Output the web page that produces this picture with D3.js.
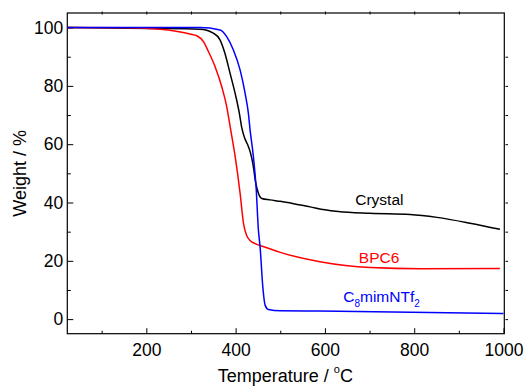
<!DOCTYPE html>
<html>
<head>
<meta charset="utf-8">
<script src="https://cdn.jsdelivr.net/npm/d3@7"></script>
<style>
  body { margin: 0; background: #fff; }
  text { font-family: "Liberation Sans", Arial, sans-serif; }
  .axis path { display: none; }
  .axis line { stroke: #000; stroke-width: 1; }
  .axis text { font-size: 17.5px; fill: #000; }
</style>
</head>
<body>
<div id="container"></div>
<script>
// ---- data ----
const crystalT = [23, 208, 320, 350, 365, 376, 387.6, 398.8, 408.4, 414, 420, 427, 433, 439, 445.2, 451, 458.6, 477, 500, 530, 567, 600, 630, 701, 791, 851, 925, 992];
const crystalW = [100, 99.7, 99.45, 98.1, 95.8, 91.2, 84.3, 77.5, 70.6, 65.5, 62.2, 59.8, 57.2, 53, 46.6, 43.2, 41.4, 40.9, 40.4, 39.6, 38.5, 37.5, 36.9, 36.3, 35.9, 34.9, 32.9, 30.8];

const bpcT = [23, 157, 231, 298, 313, 328, 339, 354, 369, 380, 389, 399, 410, 418, 425, 433, 445, 470, 500, 589, 701, 813, 992];
const bpcW = [100, 99.9, 99.4, 97.8, 97.2, 95.2, 91.8, 86.6, 79.7, 72.9, 64.9, 55.7, 43.2, 32.5, 28.6, 26.9, 25.8, 24.5, 22.9, 19.7, 17.7, 17.3, 17.4];

const ionicT = [23, 320, 365, 380, 395, 410, 421.2, 428.6, 432.4, 439.8, 445.8, 451, 454.8, 460.9, 466, 473.5, 500, 589, 1000];
const ionicW = [100, 100, 99.2, 96.9, 92.3, 85.5, 77.5, 70.6, 64.9, 55.7, 45.4, 30.6, 24.8, 11.1, 4.8, 3.3, 2.85, 2.75, 1.96];

const xMajor = [200, 400, 600, 800, 1000];
const xMinor = [100, 300, 500, 700, 900];
const yMajor = [0, 20, 40, 60, 80, 100];
const yMinor = [10, 30, 50, 70, 90];

const width = 528;
const height = 388;
const pLeft = 67.3, pRight = 503.5, pTop = 13, pBottom = 333.7;

const svg = d3.select("div#container").append("svg")
    .attr("width", width)
    .attr("height", height);

//----------------------------SCALES----------------------------//
const x = d3.scaleLinear().domain([23, 1000]).range([pLeft, pRight]);
const y = d3.scaleLinear().domain([-5, 105]).range([pBottom, pTop]);

//-----------------------------AXES-----------------------------//
svg.append("g").attr("class", "axis")
    .attr("transform", "translate(0," + pBottom + ")")
    .call(d3.axisBottom(x).tickValues(xMajor).tickSize(-5.5).tickPadding(10).tickFormat(d3.format("d")));
svg.append("g").attr("class", "axis")
    .attr("transform", "translate(0," + pBottom + ")")
    .call(d3.axisBottom(x).tickValues(xMinor).tickSize(-3).tickFormat(""));

svg.append("g").attr("class", "axis")
    .attr("transform", "translate(" + pLeft + ",0)")
    .call(d3.axisLeft(y).tickValues(yMajor).tickSize(-6).tickPadding(4));
svg.append("g").attr("class", "axis")
    .attr("transform", "translate(" + pLeft + ",0)")
    .call(d3.axisLeft(y).tickValues(yMinor).tickSize(-3.5).tickFormat(""));

// small ticks on top and right
svg.append("g").attr("class", "axis")
    .attr("transform", "translate(0," + (pTop + 1.5) + ")")
    .call(d3.axisTop(x).tickValues(xMajor.concat(xMinor).filter(d => d < 1000)).tickSize(3).tickFormat(""));
svg.append("g").attr("class", "axis")
    .attr("transform", "translate(" + (pRight + 2) + ",0)")
    .call(d3.axisLeft(y).tickValues(yMajor.concat(yMinor).filter(d => d < 100)).tickSize(-2.5).tickFormat(""));

// frame
svg.append("rect")
    .attr("x", pLeft).attr("y", pTop)
    .attr("width", pRight - pLeft + 0.8).attr("height", pBottom - pTop)
    .attr("fill", "none").attr("stroke", "#000").attr("stroke-width", 1.2);

//----------------------------LINES-----------------------------//
const line = d3.line()
    .x(d => x(d[0]))
    .y(d => y(d[1]))
    .curve(d3.curveMonotoneX);

const series = [
  { t: crystalT, w: crystalW, color: "#000000" },
  { t: bpcT, w: bpcW, color: "#ff0000" },
  { t: ionicT, w: ionicW, color: "#0000ff" }
];

series.forEach(function(s) {
  svg.append("path")
      .datum(s.t.map((t, i) => [t, s.w[i]]))
      .attr("fill", "none")
      .attr("stroke", s.color)
      .attr("stroke-width", 1.5)
      .attr("d", line);
});

//----------------------------LABELS----------------------------//
svg.append("text")
    .attr("x", x(668)).attr("y", y(39.1))
    .style("font-size", "15.5px").attr("fill", "#000")
    .text("Crystal");

svg.append("text")
    .attr("x", x(676)).attr("y", y(19.3))
    .style("font-size", "15.5px").attr("fill", "#ff0000")
    .text("BPC6");

const il = svg.append("text")
    .attr("x", x(641)).attr("y", y(5.9))
    .style("font-size", "15.5px").attr("fill", "#0000ff");
il.append("tspan").text("C");
il.append("tspan").attr("dy", 5).style("font-size", "10px").text("8");
il.append("tspan").attr("dy", -5).text("mimNTf");
il.append("tspan").attr("dy", 5).style("font-size", "10px").text("2");

// axis titles
const xt = svg.append("text")
    .attr("x", (pLeft + pRight) / 2).attr("y", 382)
    .attr("text-anchor", "middle")
    .style("font-size", "18px");
xt.append("tspan").text("Temperature / ");
xt.append("tspan").attr("dy", -9).style("font-size", "11px").text("o");
xt.append("tspan").attr("dy", 9).text("C");

svg.append("text")
    .attr("transform", "translate(26," + (pTop + pBottom) / 2 + ") rotate(-90)")
    .attr("text-anchor", "middle")
    .style("font-size", "18px")
    .text("Weight / %");
</script>
</body>
</html>
